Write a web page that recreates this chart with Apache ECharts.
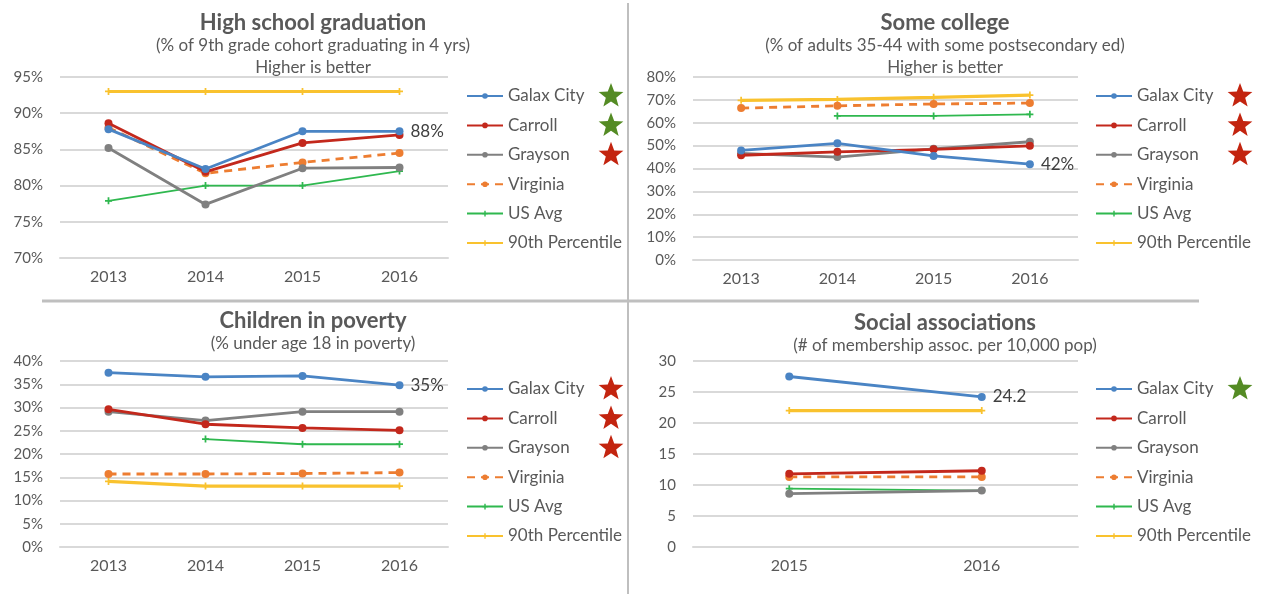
<!DOCTYPE html>
<html>
<head>
<meta charset="utf-8">
<script src="https://cdn.jsdelivr.net/npm/echarts@6/dist/echarts.min.js"></script>
<style>
html, body { margin: 0; padding: 0; background: #fff; }
#chart { width: 1262px; height: 594px; }
</style>
</head>
<body>
<div id="chart"></div>
<script>
var names = ['Galax City', 'Carroll', 'Grayson', 'Virginia', 'US Avg', '90th Percentile'];
var colors = ['#4A84C4', '#C3281C', '#808080', '#ED7D31', '#2FB84F', '#F9C22E'];

var years4 = ['2013', '2014', '2015', '2016'];
var years2 = ['2015', '2016'];

// High school graduation (%)
var grad_galax    = [87.8, 82.3, 87.5, 87.5];
var grad_carroll  = [88.6, 81.9, 85.9, 87.0];
var grad_grayson  = [85.2, 77.4, 82.4, 82.5];
var grad_virginia = [88.0, 81.7, 83.2, 84.5];
var grad_us       = [77.9, 80.0, 80.0, 82.0];
var grad_p90      = [93, 93, 93, 93];

// Some college (%)
var col_galax    = [47.9, 51.0, 45.5, 41.9];
var col_carroll  = [45.8, 47.3, 48.4, 49.9];
var col_grayson  = [46.6, 45.0, 48.6, 51.7];
var col_virginia = [66.4, 67.4, 68.2, 68.6];
var col_us       = [null, 63.0, 63.0, 63.7];
var col_p90      = [69.8, 70.2, 71.1, 72.1];

// Children in poverty (%)
var pov_galax    = [37.5, 36.6, 36.8, 34.8];
var pov_carroll  = [29.6, 26.4, 25.6, 25.1];
var pov_grayson  = [29.1, 27.2, 29.1, 29.1];
var pov_virginia = [15.7, 15.7, 15.8, 16.0];
var pov_us       = [null, 23.2, 22.1, 22.1];
var pov_p90      = [14.1, 13.1, 13.1, 13.1];

// Social associations (per 10,000)
var soc_galax    = [27.5, 24.2];
var soc_carroll  = [11.8, 12.3];
var soc_grayson  = [8.6, 9.1];
var soc_virginia = [11.3, 11.3];
var soc_us       = [9.4, 9.1];
var soc_p90      = [22, 22];

// star ratings next to legend (g = green, r = red, '' = none)
var stars_grad = ['g', 'g', 'r'];
var stars_col  = ['r', 'r', 'r'];
var stars_pov  = ['r', 'r', 'r'];
var stars_soc  = ['g', '', ''];

var textColor = '#595959';
var gridColor = '#D9D9D9';
var fontName = 'Lato';
var plusIcon = 'path://M3,0h2v3h3v2h-3v3h-2v-3h-3v-2h3z';

var panels = [
	{ title: 'High school graduation', sub: '(% of 9th grade cohort graduating in 4 yrs)', sub2: 'Higher is better',
	  cats: years4, data: [grad_galax, grad_carroll, grad_grayson, grad_virginia, grad_us, grad_p90],
	  min: 70, max: 95, interval: 5, pct: true, stars: stars_grad,
	  grid: { left: 60, top: 77, width: 388, height: 181 }, cx: 313, ty: 23, legendX: 466, legendY: 87 },
	{ title: 'Some college', sub: '(% of adults 35-44 with some postsecondary ed)', sub2: 'Higher is better',
	  cats: years4, data: [col_galax, col_carroll, col_grayson, col_virginia, col_us, col_p90],
	  min: 0, max: 80, interval: 10, pct: true, stars: stars_col,
	  grid: { left: 693, top: 77, width: 385, height: 183 }, cx: 945, ty: 23, legendX: 1095, legendY: 87 },
	{ title: 'Children in poverty', sub: '(% under age 18 in poverty)', sub2: '',
	  cats: years4, data: [pov_galax, pov_carroll, pov_grayson, pov_virginia, pov_us, pov_p90],
	  min: 0, max: 40, interval: 5, pct: true, stars: stars_pov,
	  grid: { left: 60, top: 361, width: 388, height: 186 }, cx: 313, ty: 321, legendX: 466, legendY: 380 },
	{ title: 'Social associations', sub: '(# of membership assoc. per 10,000 pop)', sub2: '',
	  cats: years2, data: [soc_galax, soc_carroll, soc_grayson, soc_virginia, soc_us, soc_p90],
	  min: 0, max: 30, interval: 5, pct: false, stars: stars_soc,
	  grid: { left: 693, top: 361, width: 385, height: 186 }, cx: 945, ty: 323, legendX: 1095, legendY: 380 }
];

var legendStep = 29.4;

function starPoints(cx, cy, r) {
	var pts = [];
	for (var i = 0; i < 10; i++) {
		var rr = (i % 2 == 0) ? r : r * 0.42;
		var a = -Math.PI / 2 + i * Math.PI / 5;
		pts.push([cx + rr * Math.cos(a), cy + rr * Math.sin(a)]);
	}
	return pts;
}

function lineSeries(p, idx, k) {
	var vals = p.data[k];
	var data = vals.map(function(v, i) {
		// only the last Galax City point carries a label
		if (k == 0 && i == vals.length - 1) {
			return {
				value: v,
				label: {
					show: true, position: 'right', distance: 7,
					fontFamily: fontName, fontSize: 17, color: '#404040',
					formatter: function(o) {
						return p.pct ? Math.round(o.value) + '%' : o.value.toFixed(1);
					}
				}
			};
		}
		return v;
	});
	var s = {
		name: names[k],
		type: 'line',
		xAxisIndex: idx,
		yAxisIndex: idx,
		data: data,
		color: colors[k],
		symbol: 'circle',
		symbolSize: 8,
		lineStyle: { width: 2.8, color: colors[k] },
		itemStyle: { color: colors[k] },
		z: 10 - k,
		animation: false
	};
	if (k == 3) {
		s.lineStyle.type = [8, 6];
	}
	if (k == 4) {
		s.symbol = plusIcon;
		s.symbolSize = 7;
		s.lineStyle.width = 1.8;
	}
	if (k == 5) {
		s.symbol = plusIcon;
		s.symbolSize = 7;
		s.lineStyle.width = 3.2;
		s.z = 1;
	}
	return s;
}

var grids = [], xAxes = [], yAxes = [], series = [], legends = [], graphics = [];

panels.forEach(function(p, idx) {
	grids.push(p.grid);
	xAxes.push({
		type: 'category', gridIndex: idx, data: p.cats, boundaryGap: true,
		axisTick: { show: false },
		axisLine: { lineStyle: { color: gridColor, width: 2 } },
		axisLabel: { color: textColor, fontFamily: fontName, fontSize: 16, margin: 11 }
	});
	yAxes.push({
		type: 'value', gridIndex: idx, min: p.min, max: p.max, interval: p.interval,
		axisLine: { show: false }, axisTick: { show: false },
		splitLine: { lineStyle: { color: gridColor, width: 2 } },
		axisLabel: {
			color: textColor, fontFamily: fontName, fontSize: 15, margin: 17,
			formatter: p.pct ? '{value}%' : '{value}'
		}
	});
	for (var k = 0; k < names.length; k++) {
		series.push(lineSeries(p, idx, k));
	}
	legends.push({
		orient: 'vertical', left: p.legendX, top: p.legendY, padding: 0,
		itemWidth: 36, itemHeight: 7, itemGap: legendStep - 18,
		data: names, selectedMode: false,
		textStyle: { color: textColor, fontFamily: fontName, fontSize: 17, lineHeight: 18 }
	});

	// titles
	graphics.push({
		type: 'text', x: p.cx, y: p.ty,
		style: { text: p.title, align: 'center', verticalAlign: 'middle',
			fontFamily: fontName, fontWeight: 'bold', fontSize: 22, fill: textColor }
	});
	graphics.push({
		type: 'text', x: p.cx, y: p.ty + 23,
		style: { text: p.sub, align: 'center', verticalAlign: 'middle',
			fontFamily: fontName, fontSize: 17, fill: textColor }
	});
	if (p.sub2) {
		graphics.push({
			type: 'text', x: p.cx, y: p.ty + 45,
			style: { text: p.sub2, align: 'center', verticalAlign: 'middle',
				fontFamily: fontName, fontSize: 17, fill: textColor }
		});
	}

	// stars
	p.stars.forEach(function(st, j) {
		if (!st) return;
		graphics.push({
			type: 'polygon',
			shape: { points: starPoints(p.legendX + 145, p.legendY + 9 + j * legendStep, 13) },
			style: { fill: st == 'g' ? '#548B24' : '#C3240F' }
		});
	});
});

// panel dividers
graphics.push({ type: 'rect', shape: { x: 627, y: 3, width: 2, height: 591 }, style: { fill: '#BFBFBF' } });
graphics.push({ type: 'rect', shape: { x: 42, y: 299.5, width: 1157, height: 3 }, style: { fill: '#BFBFBF' } });

var myChart = echarts.init(document.getElementById('chart'));
myChart.setOption({
	animation: false,
	grid: grids,
	xAxis: xAxes,
	yAxis: yAxes,
	legend: legends,
	series: series,
	graphic: graphics
});
</script>
</body>
</html>
